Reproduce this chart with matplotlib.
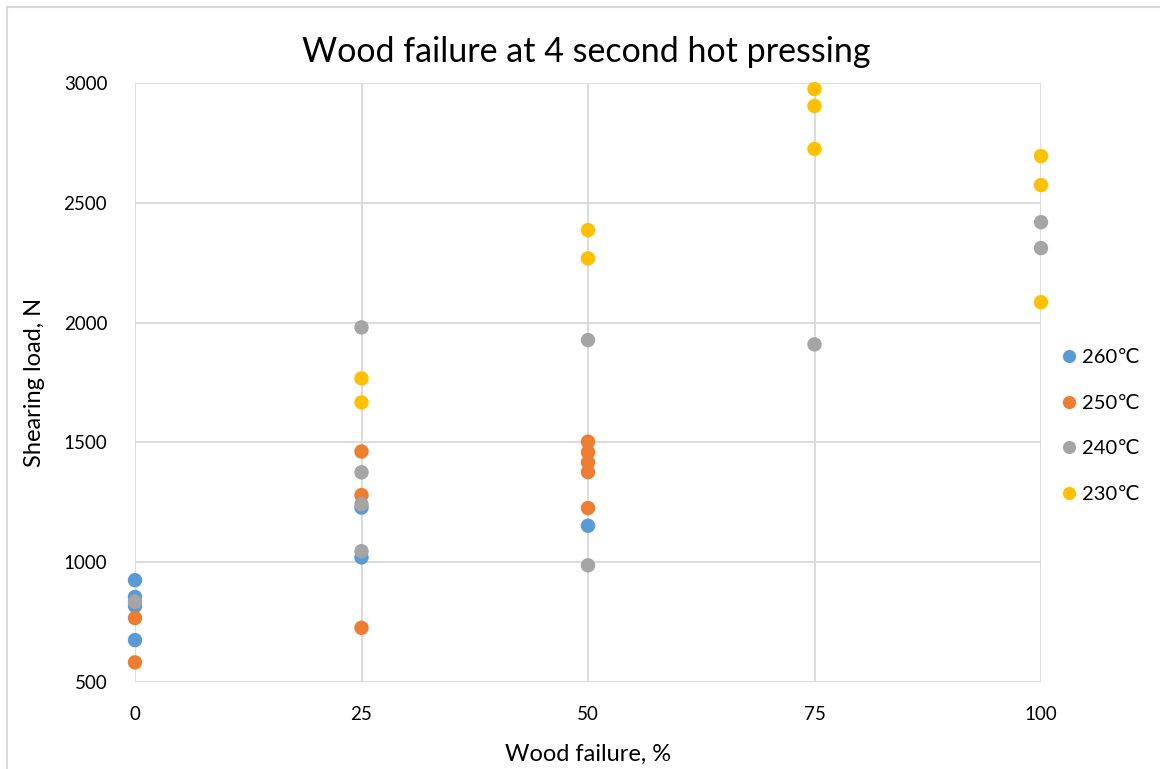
import matplotlib
matplotlib.use("Agg")
import matplotlib.pyplot as plt
from matplotlib.lines import Line2D

plt.rcParams['font.family'] = ['Lato', 'DejaVu Sans']

# Shearing load (N) by wood failure (%) for each pressing temperature
x_260 = [0, 0, 0, 0, 25, 25, 50]
y_260 = [925, 855, 817, 675, 1228, 1020, 1152]

x_250 = [0, 0, 25, 25, 25, 50, 50, 50, 50, 50]
y_250 = [767, 582, 1462, 1280, 726, 1503, 1459, 1417, 1376, 1226]

x_240 = [0, 25, 25, 25, 25, 50, 50, 75, 100, 100]
y_240 = [835, 1980, 1375, 1242, 1046, 1927, 987, 1909, 2419, 2311]

x_230 = [25, 25, 50, 50, 75, 75, 75, 100, 100, 100]
y_230 = [1767, 1667, 2386, 2268, 2975, 2904, 2725, 2695, 2574, 2085]

series = [
    ("260\u2103", x_260, y_260, "#5B9BD5"),
    ("250\u2103", x_250, y_250, "#ED7D31"),
    ("240\u2103", x_240, y_240, "#A5A5A5"),
    ("230\u2103", x_230, y_230, "#FFC000"),
]

x_ticks = [0, 25, 50, 75, 100]
y_ticks = [500, 1000, 1500, 2000, 2500, 3000]

fig = plt.figure(figsize=(11.6, 7.69), dpi=100)
ax = fig.add_axes([135 / 1160, 1 - 682 / 769, (1041 - 135) / 1160, (682 - 83) / 769])

for label, xs, ys, color in series:
    ax.scatter(xs, ys, s=108, color=color, edgecolors='none', zorder=3, clip_on=False, label=label)

ax.set_xlim(0, 100)
ax.set_ylim(500, 3000)
ax.set_xticks(x_ticks)
ax.set_yticks(y_ticks)
ax.grid(True, color="#D9D9D9", linewidth=1.3, zorder=0)
ax.set_axisbelow(True)
for sp in ax.spines.values():
    sp.set_visible(False)
ax.tick_params(length=0, labelsize=13.5, colors="#000000")
ax.tick_params(axis='x', pad=17)
ax.tick_params(axis='y', pad=20)

ax.set_xlabel("Wood failure, %", fontsize=17, labelpad=15)
ax.set_ylabel("Shearing load, N", fontsize=17, labelpad=13)
fig.text(0.505, 0.932, "Wood failure at 4 second hot pressing", ha='center', va='center', fontsize=24.5)

handles = [Line2D([], [], marker='o', linestyle='none', markersize=9.5,
                  markerfacecolor=c, markeredgecolor='none') for _, _, _, c in series]
labels = [s[0] for s in series]
fig.legend(handles, labels, loc='center left', bbox_to_anchor=(1049 / 1160, 1 - 426 / 769),
           frameon=False, fontsize=14.5, handletextpad=0.05, labelspacing=1.42,
           handlelength=1.2, borderaxespad=0)

# chart frame edges
fig.add_artist(Line2D([7 / 1160, 7 / 1160], [0, 1 - 7 / 769], transform=fig.transFigure,
                      color="#D9D9D9", linewidth=1.5))
fig.add_artist(Line2D([7 / 1160, 1], [1 - 7 / 769, 1 - 7 / 769], transform=fig.transFigure,
                      color="#D9D9D9", linewidth=1.5))

fig.savefig("out.png", dpi=100)
